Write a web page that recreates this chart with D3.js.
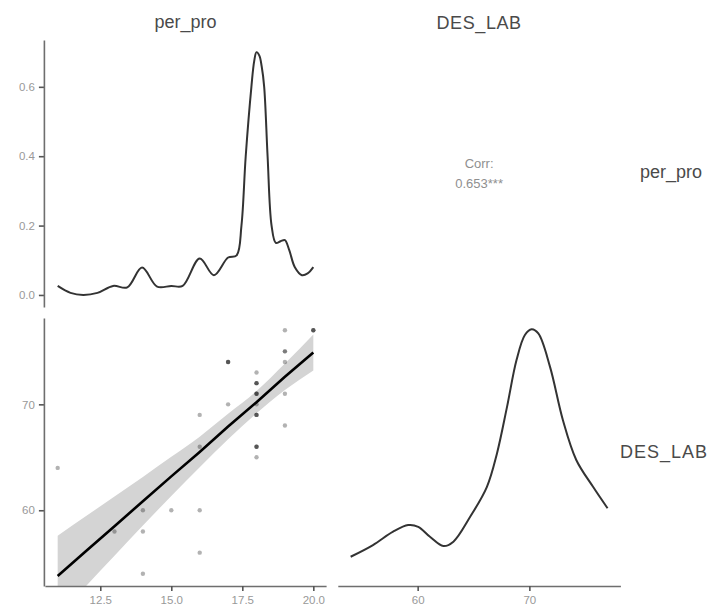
<!DOCTYPE html>
<html>
<head>
<meta charset="utf-8">
<script src="https://cdn.jsdelivr.net/npm/d3@7"></script>
<style>
  html, body { margin: 0; padding: 0; background: #fff; }
  svg { display: block; font-family: "Liberation Sans", Arial, sans-serif; }
</style>
</head>
<body>
<svg id="chart" width="717" height="610"></svg>
<script>
// ---------------- DATA ----------------
const variables = ["per_pro", "DES_LAB"];

// scatter: per_pro (x) vs DES_LAB (y); repeated pairs overlap (darker dots)
const perPro = [11, 13, 14, 14, 14, 15, 16, 16, 16, 16,
                17, 17, 17, 17,
                18, 18, 18, 18, 18, 18, 18, 18, 18, 18, 18, 18, 18, 18, 18,
                19, 19, 19, 19, 19, 19,
                20, 20, 20];
const desLab = [64, 58, 60, 58, 54, 60, 69, 66, 60, 56,
                74, 74, 74, 70,
                73, 72, 72, 72, 71, 71, 71, 70, 69, 69, 69, 66, 66, 66, 65,
                77, 75, 75, 74, 71, 68,
                77, 77, 77];

// per_pro density curve (diagonal, top-left)
const perProDensX = [11.0, 11.45, 11.9, 12.4, 12.95, 13.45, 13.97, 14.5, 15.0, 15.4,
                     16.0, 16.5, 17.0, 17.3, 17.47, 17.62, 17.82, 17.92, 18.0, 18.1,
                     18.18, 18.27, 18.39, 18.53, 18.68, 18.85, 19.0, 19.15, 19.35, 19.6, 19.8, 20.0];
const perProDensY = [0.026, 0.006, 0.0, 0.006, 0.026, 0.022, 0.079, 0.024, 0.026, 0.026,
                     0.105, 0.057, 0.108, 0.114, 0.20, 0.40, 0.60, 0.675, 0.70, 0.69,
                     0.66, 0.60, 0.40, 0.20, 0.15, 0.155, 0.158, 0.13, 0.08, 0.057, 0.062, 0.08];

// DES_LAB density curve (diagonal, bottom-right)
const desLabDensX = [54.0, 56.0, 57.8, 59.15, 60.05, 61.1, 62.3, 63.2, 64.7, 66.2,
                     67.1, 68.0, 68.85, 69.6, 70.2, 70.8, 71.85, 73.0, 74.2, 75.7, 77.0];
const desLabDensY = [0.0070, 0.0118, 0.0173, 0.0200, 0.0193, 0.0152, 0.0114, 0.0132, 0.0234, 0.0357,
                     0.0494, 0.0685, 0.0877, 0.0980, 0.1003, 0.0986, 0.0849, 0.0631, 0.0467, 0.0357, 0.0269];

// linear fit with confidence band
const fitX     = [11, 12, 13, 14, 15, 16, 17, 18, 19, 20];
const fitY     = [53.8, 56.15, 58.5, 60.85, 63.2, 65.5, 67.9, 70.2, 72.6, 74.9];
const fitLower = [50.0, 52.85, 55.7, 58.55, 61.35, 64.05, 66.7, 69.15, 71.35, 73.2];
const fitUpper = [57.6, 59.45, 61.3, 63.15, 65.05, 66.95, 69.1, 71.25, 73.85, 76.6];

const corrLabel = "Corr:";
const corrValue = "0.653***";

const perProTicks = [12.5, 15.0, 17.5, 20.0];
const desLabTicks = [60, 70];
const densTicks   = [0.0, 0.2, 0.4, 0.6];

// ---------------- LAYOUT ----------------
const svg = d3.select("#chart");
const col1 = [44.9, 326.1], col2 = [337.8, 620.4];
const row1 = [307.1, 40], row2 = [586, 318];

const xPer = d3.scaleLinear().domain([10.55, 20.45]).range(col1);
const xDes = d3.scaleLinear().domain([52.85, 78.15]).range(col2);
const yDens1 = d3.scaleLinear().domain([-0.035, 0.735]).range(row1);
const yDes = d3.scaleLinear().domain([52.85, 78.15]).range(row2);
const yDens2 = d3.scaleLinear().domain([-0.00499, 0.10495]).range(row2);

const axisColor = "#6e6e6e";
const tickText = "#999999";

function styleAxis(g) {
  g.select(".domain").attr("stroke", axisColor).attr("stroke-width", 1.6);
  g.selectAll(".tick line").attr("stroke", "#555").attr("stroke-width", 1.6);
  g.selectAll(".tick text").attr("fill", tickText).attr("font-size", 11.5)
    .attr("font-family", "Liberation Sans, Arial, sans-serif");
}

// clip paths
const defs = svg.append("defs");
defs.append("clipPath").attr("id", "clipScatter").append("rect")
  .attr("x", col1[0]).attr("y", row2[1]).attr("width", col1[1] - col1[0]).attr("height", row2[0] - row2[1]);

// ---- top-left density ----
const line1 = d3.line().x((d, i) => xPer(perProDensX[i])).y((d, i) => yDens1(perProDensY[i]))
  .curve(d3.curveCatmullRom.alpha(0.5));
svg.append("path").datum(perProDensY).attr("d", line1)
  .attr("fill", "none").attr("stroke", "#333").attr("stroke-width", 2);

svg.append("g").attr("transform", `translate(${col1[0] - 1},0)`)
  .call(d3.axisLeft(yDens1).tickValues(densTicks).tickFormat(d3.format(".1f")).tickSize(5).tickSizeOuter(0).tickPadding(4))
  .call(styleAxis);

// ---- top-right correlation ----
const cxMid = (col2[0] + col2[1]) / 2;
svg.append("text").attr("x", cxMid).attr("y", 168).attr("text-anchor", "middle")
  .attr("font-size", 13).attr("fill", "#8f8f8f").text(corrLabel);
svg.append("text").attr("x", cxMid).attr("y", 188).attr("text-anchor", "middle")
  .attr("font-size", 13).attr("fill", "#8f8f8f").text(corrValue);

// ---- bottom-left scatter ----
const sc = svg.append("g").attr("clip-path", "url(#clipScatter)");
const band = d3.area().x((d, i) => xPer(fitX[i])).y0((d, i) => yDes(fitLower[i])).y1((d, i) => yDes(fitUpper[i]))
  .curve(d3.curveMonotoneX);
sc.append("path").datum(fitX).attr("d", band).attr("fill", "#d4d4d4");

sc.selectAll("circle").data(perPro).join("circle")
  .attr("cx", (d) => xPer(d)).attr("cy", (d, i) => yDes(desLab[i])).attr("r", 2.2)
  .attr("fill", "#000").attr("fill-opacity", 0.3);

const fitLine = d3.line().x((d, i) => xPer(fitX[i])).y((d, i) => yDes(fitY[i]));
sc.append("path").datum(fitX).attr("d", fitLine)
  .attr("fill", "none").attr("stroke", "#000").attr("stroke-width", 2.6);

svg.append("g").attr("transform", `translate(${col1[0] - 1},0)`)
  .call(d3.axisLeft(yDes).tickValues(desLabTicks).tickFormat(d3.format("d")).tickSize(5).tickSizeOuter(0).tickPadding(4))
  .call(styleAxis);
svg.append("g").attr("transform", `translate(0,${row2[0]})`)
  .call(d3.axisBottom(xPer).tickValues(perProTicks).tickFormat(d3.format(".1f")).tickSize(5).tickSizeOuter(0).tickPadding(5))
  .call(styleAxis);

// ---- bottom-right density ----
const line2 = d3.line().x((d, i) => xDes(desLabDensX[i])).y((d, i) => yDens2(desLabDensY[i]))
  .curve(d3.curveCatmullRom.alpha(0.5));
svg.append("path").datum(desLabDensY).attr("d", line2)
  .attr("fill", "none").attr("stroke", "#333").attr("stroke-width", 2);
svg.append("g").attr("transform", `translate(0,${row2[0]})`)
  .call(d3.axisBottom(xDes).tickValues(desLabTicks).tickFormat(d3.format("d")).tickSize(5).tickSizeOuter(0).tickPadding(5))
  .call(styleAxis);

// ---- strip labels ----
const stripColor = "#4a4a4a";
svg.append("text").attr("x", (col1[0] + col1[1]) / 2).attr("y", 28).attr("text-anchor", "middle")
  .attr("font-size", 18).attr("fill", stripColor).text(variables[0]);
svg.append("text").attr("x", cxMid).attr("y", 29).attr("text-anchor", "middle")
  .attr("font-size", 18).attr("fill", stripColor).attr("letter-spacing", 0.6).text(variables[1]);
svg.append("text").attr("x", 640).attr("y", 178)
  .attr("font-size", 18).attr("fill", stripColor).text(variables[0]);
svg.append("text").attr("x", 620).attr("y", 458)
  .attr("font-size", 18).attr("fill", stripColor).attr("letter-spacing", 1).text(variables[1]);
</script>
</body>
</html>
